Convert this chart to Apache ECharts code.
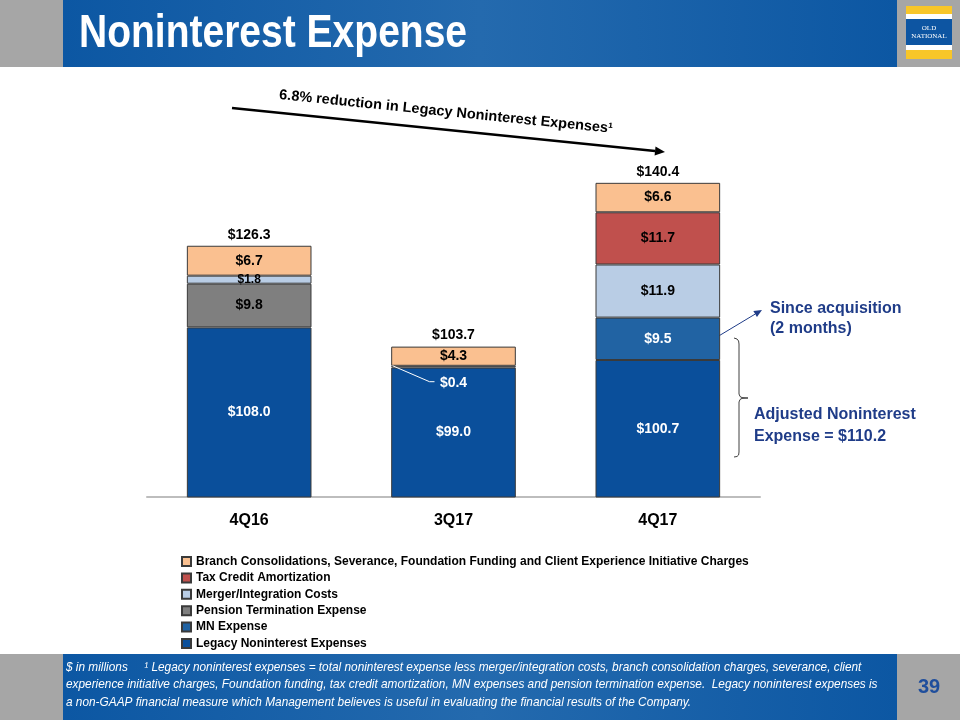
<!DOCTYPE html>
<html><head><meta charset="utf-8">
<script src="https://cdn.jsdelivr.net/npm/echarts@6/dist/echarts.min.js"></script>
<style>html,body{margin:0;padding:0;background:#fff}#c{width:960px;height:720px}</style>
</head><body><div id="c"></div>
<script>
const categories = ['4Q16', '3Q17', '4Q17'];
const legacy = [108.0, 99.0, 100.7];
const mnExpense = ['-', '-', 9.5];
const pension = [9.8, '-', '-'];
const merger = [1.8, 0.4, 11.9];
const taxCredit = ['-', '-', 11.7];
const branch = [6.7, 4.3, 6.6];
const totals = [126.3, 103.7, 140.4];
const seriesNames = ['Legacy Noninterest Expenses', 'MN Expense', 'Pension Termination Expense',
  'Merger/Integration Costs', 'Tax Credit Amortization',
  'Branch Consolidations, Severance, Foundation Funding and Client Experience Initiative Charges'];

const ARIAL = "'Liberation Sans',Arial,sans-serif";
const chart = echarts.init(document.getElementById('c'));
const fmt = p => (p.value === '-' || p.value == null) ? '' : '$' + Number(p.value).toFixed(1);

function seg(name, data, color, labelColor) {
  return {
    name, type: 'bar', stack: 'a', data, barWidth: '61%',
    itemStyle: { color, borderColor: '#3a3a3a', borderWidth: 1 },
    label: { show: true, position: 'inside', formatter: fmt, color: labelColor,
      fontFamily: ARIAL, fontWeight: 'bold', fontSize: 14 },
    emphasis: { disabled: true }
  };
}

const mergerData = merger.map((v, i) => {
  if (i === 0) return { value: v, label: { fontSize: 12 } };
  if (i === 1) return { value: v, label: { color: '#ffffff', offset: [0, 16] } };
  return v;
});

const option = {
  animation: false,
  grid: { left: 147, right: 200, top: 140, bottom: 223 },
  xAxis: {
    type: 'category', data: categories,
    axisLine: { lineStyle: { color: '#bdbdbd', width: 2 } },
    axisTick: { show: false },
    axisLabel: { color: '#000', fontFamily: ARIAL, fontWeight: 'bold', fontSize: 16, margin: 16 }
  },
  yAxis: { type: 'value', min: 70, max: 150, show: false, splitLine: { show: false } },
  legend: {
    orient: 'vertical', left: 176, top: 550, itemGap: 3.4, itemWidth: 9, itemHeight: 9,
    icon: 'rect', selectedMode: false,
    data: seriesNames.slice().reverse(),
    textStyle: { fontFamily: ARIAL, fontWeight: 'bold', fontSize: 12, lineHeight: 13, color: '#000' }
  },
  series: [
    seg(seriesNames[0], legacy, '#0a4f9b', '#ffffff'),
    seg(seriesNames[1], mnExpense, '#2163a3', '#ffffff'),
    seg(seriesNames[2], pension, '#7f7f7f', '#000000'),
    seg(seriesNames[3], mergerData, '#b9cde5', '#000000'),
    seg(seriesNames[4], taxCredit, '#c0504d', '#000000'),
    seg(seriesNames[5], branch, '#fac090', '#000000'),
    {
      name: 'Total', type: 'bar', stack: 'a', data: totals.map(() => 0), barWidth: '61%',
      itemStyle: { color: 'rgba(0,0,0,0)', borderWidth: 0 },
      label: { show: true, position: 'top', distance: 4, formatter: p => '$' + totals[p.dataIndex].toFixed(1),
        color: '#000', fontFamily: ARIAL, fontWeight: 700, fontSize: 14 },
      emphasis: { disabled: true }
    }
  ]
};
chart.setOption(option);

const g = [];
const band = () => new echarts.graphic.LinearGradient(0, 0, 1, 0, [
  { offset: 0, color: '#0c57a3' }, { offset: 0.5, color: '#246aae' }, { offset: 1, color: '#0c57a3' }]);
// header
g.push({ type: 'rect', shape: { x: 0, y: 0, width: 960, height: 67 }, style: { fill: '#a6a6a6' }, silent: true });
g.push({ type: 'rect', shape: { x: 63, y: 0, width: 834, height: 67 }, style: { fill: band() }, silent: true });
g.push({ type: 'text', x: 79, y: 34, scaleX: 0.83, style: { text: 'Noninterest Expense', fill: '#ffffff', font: "bold 47px " + ARIAL, textVerticalAlign: 'middle' }, silent: true });
// logo
g.push({ type: 'rect', shape: { x: 906, y: 6, width: 46, height: 53 }, style: { fill: '#f8c629' }, silent: true });
g.push({ type: 'rect', shape: { x: 906, y: 14, width: 46, height: 5 }, style: { fill: '#ffffff' }, silent: true });
g.push({ type: 'rect', shape: { x: 906, y: 45, width: 46, height: 5 }, style: { fill: '#ffffff' }, silent: true });
g.push({ type: 'rect', shape: { x: 906, y: 19, width: 46, height: 26 }, style: { fill: '#0d55a2' }, silent: true });
g.push({ type: 'text', x: 929, y: 28, style: { text: 'OLD', fill: '#fff', font: "7px 'Liberation Serif',serif", textAlign: 'center', textVerticalAlign: 'middle' }, silent: true });
g.push({ type: 'text', x: 929, y: 36, style: { text: 'NATIONAL', fill: '#fff', font: "7px 'Liberation Serif',serif", textAlign: 'center', textVerticalAlign: 'middle' }, silent: true });
// footer
g.push({ type: 'rect', shape: { x: 0, y: 654, width: 960, height: 66 }, style: { fill: '#a6a6a6' }, silent: true });
g.push({ type: 'rect', shape: { x: 63, y: 654, width: 834, height: 66 }, style: { fill: band() }, silent: true });
const foot = [
  '$ in millions     \u00b9 Legacy noninterest expenses = total noninterest expense less merger/integration costs, branch consolidation charges, severance, client',
  'experience initiative charges, Foundation funding, tax credit amortization, MN expenses and pension termination expense.  Legacy noninterest expenses is',
  'a non-GAAP financial measure which Management believes is useful in evaluating the financial results of the Company.'
];
foot.forEach((t, i) => g.push({ type: 'text', x: 66, y: 667 + i * 17.5, scaleX: 0.91,
  style: { text: t, fill: '#ffffff', font: "italic 13px " + ARIAL, textVerticalAlign: 'middle' }, silent: true }));
g.push({ type: 'text', x: 929, y: 687, style: { text: '39', fill: '#1f4e9c', font: "bold 20px " + ARIAL, textAlign: 'center', textVerticalAlign: 'middle' }, silent: true });

function arrow(x1, y1, x2, y2, color, w, hl, hw) {
  const dx = x2 - x1, dy = y2 - y1, L = Math.hypot(dx, dy), ux = dx / L, uy = dy / L;
  const bx = x2 - hl * ux, by = y2 - hl * uy, nx = -uy, ny = ux;
  g.push({ type: 'line', shape: { x1, y1, x2: bx, y2: by }, style: { stroke: color, lineWidth: w }, silent: true });
  g.push({ type: 'polygon', shape: { points: [[x2, y2], [bx + hw * nx, by + hw * ny], [bx - hw * nx, by - hw * ny]] }, style: { fill: color }, silent: true });
}
// top trend arrow
arrow(232, 108, 665, 152, '#000000', 2.5, 10, 4.5);
g.push({ type: 'text', x: 446, y: 112, rotation: -Math.atan2(44, 433),
  style: { text: '6.8% reduction in Legacy Noninterest Expenses\u00b9', fill: '#000', font: "bold 14.5px " + ARIAL, textAlign: 'center', textVerticalAlign: 'middle' }, silent: true });

// MN annotation
arrow(712, 340, 762, 310, '#1f3c88', 1, 8, 3.5);
g.push({ type: 'text', x: 770, y: 309, style: { text: 'Since acquisition', fill: '#1f3c88', font: "bold 16px " + ARIAL, textVerticalAlign: 'middle' }, silent: true });
g.push({ type: 'text', x: 770, y: 329, style: { text: '(2 months)', fill: '#1f3c88', font: "bold 16px " + ARIAL, textVerticalAlign: 'middle' }, silent: true });
// bracket
g.push({ type: 'polyline', shape: { points: [[734, 338], [737, 339], [738.6, 341], [739, 344], [739, 394], [740, 396.5], [742, 397.6], [748, 398],
  [742, 398.4], [740, 399.5], [739, 402], [739, 452], [738.6, 455], [737, 456.5], [734, 457]] },
  style: { stroke: '#404040', lineWidth: 1, fill: null }, silent: true });
g.push({ type: 'text', x: 754, y: 415, style: { text: 'Adjusted Noninterest', fill: '#1f3c88', font: "bold 16px " + ARIAL, textVerticalAlign: 'middle' }, silent: true });
g.push({ type: 'text', x: 754, y: 437, style: { text: 'Expense = $110.2', fill: '#1f3c88', font: "bold 16px " + ARIAL, textVerticalAlign: 'middle' }, silent: true });

// leader line for the small 3Q17 merger segment
const p = chart.convertToPixel({ gridIndex: 0 }, [categories[1], legacy[1] + merger[1] / 2]);
g.push({ type: 'polyline', z: 100, shape: { points: [[p[0] - 61, p[1] - 1], [p[0] - 24, p[1] + 15], [p[0] - 19, p[1] + 15]] },
  style: { stroke: '#ffffff', lineWidth: 1, fill: null }, silent: true });

chart.setOption({ graphic: g });
</script></body></html>
